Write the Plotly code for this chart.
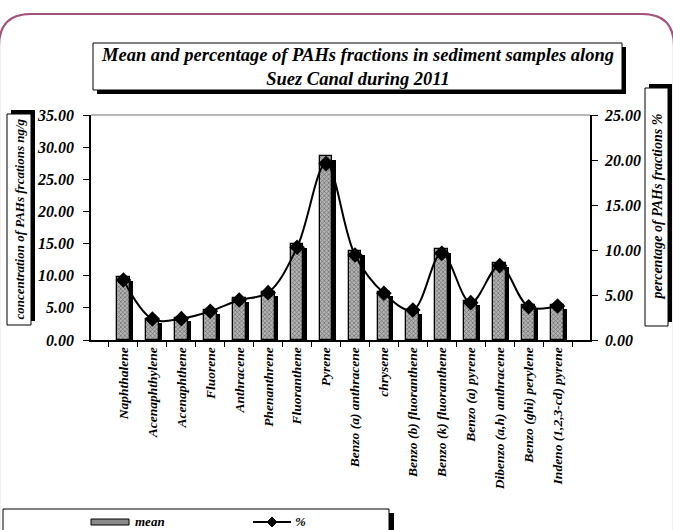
import plotly.graph_objects as go

categories = ["Naphthalene", "Acenaphthylene", "Acenaphthene", "Fluorene", "Anthracene",
              "Phenanthrene", "Fluoranthene", "Pyrene", "Benzo (a) anthracene", "chrysene",
              "Benzo (b) fluoranthene", "Benzo (k) fluoranthene", "Benzo (a) pyrene",
              "Dibenzo (a,h) anthracene", "Benzo (ghi) perylene", "Indeno (1,2,3-cd) pyrene"]
mean_vals = [9.8, 3.3, 3.5, 4.7, 6.5, 7.5, 14.9, 28.6, 13.8, 7.5, 4.7, 14.1, 6.0, 12.0, 5.4, 5.5]
pct_vals = [6.67, 2.33, 2.37, 3.2, 4.44, 5.26, 10.3, 19.6, 9.44, 5.19, 3.33, 9.63, 4.15, 8.26, 3.7, 3.78]
left_ticks = [0, 5, 10, 15, 20, 25, 30, 35]
right_ticks = [0, 5, 10, 15, 20, 25]

W, H = 673, 530
L, R, T, B = 91, 590, 115, 340
FONT = "Liberation Serif, Times New Roman, serif"

def px(x):
    return (x - L) / (R - L)

def py(y):
    return (B - y) / (B - T)

shadow_drop = 0.6
shadow_vals = [max(v - shadow_drop, 0) for v in mean_vals]

fig = go.Figure()
fig.add_trace(go.Bar(x=categories, y=shadow_vals, width=0.44, offset=-0.11,
                     marker=dict(color="black", line=dict(width=0)),
                     showlegend=False, hoverinfo="skip"))
fig.add_trace(go.Bar(x=categories, y=mean_vals, width=0.44, offset=-0.22, name="mean",
                     marker=dict(color="#999999", line=dict(color="black", width=1.3),
                                 pattern=dict(shape="x", size=3, fgcolor="#1e1e1e",
                                              bgcolor="#b4b4b4", solidity=0.4)),
                     showlegend=False))
fig.add_trace(go.Scatter(x=categories, y=pct_vals, yaxis="y2", name="%", mode="lines+markers",
                         line=dict(color="black", width=2, shape="spline", smoothing=1),
                         marker=dict(symbol="diamond", size=12, color="black"),
                         showlegend=False))

tickfont = dict(family=FONT, size=16, color="black", weight="bold", style="italic")

fig.update_layout(
    width=W, height=H, autosize=False,
    margin=dict(l=L, r=W - R, t=T, b=H - B, pad=0),
    paper_bgcolor="white", plot_bgcolor="white",
    barmode="overlay", bargap=0,
    xaxis=dict(type="category", showline=True, linecolor="black", linewidth=1.5,
               ticks="outside", ticklen=5, tickcolor="black", tickson="boundaries",
               tickangle=-90, showgrid=False, zeroline=False,
               tickfont=dict(family=FONT, size=13.5, color="black", weight="bold", style="italic")),
    yaxis=dict(range=[0, 35], tickvals=left_ticks, tickformat=".2f", showline=True,
               linecolor="black", linewidth=1.5, ticks="outside", ticklen=6, tickcolor="black",
               showgrid=False, zeroline=False, tickfont=tickfont, ticklabelstandoff=6),
    yaxis2=dict(range=[0, 25], tickvals=right_ticks, tickformat=".2f", overlaying="y",
                side="right", showline=True, linecolor="black", linewidth=1.5, ticks="outside",
                ticklen=6, tickcolor="black", showgrid=False, zeroline=False, tickfont=tickfont,
                ticklabelstandoff=4),
)

shapes = []
shapes.append(dict(type="line", xref="paper", yref="paper", x0=0, x1=1, y0=1, y1=1,
                   line=dict(color="#a0a0a0", width=1.5)))
fx0, fx1, ftop, r, fbot = -1, 674, 14, 32, 600
path = (f"M {px(fx0)},{py(fbot)} L {px(fx0)},{py(ftop + r)} "
        f"Q {px(fx0)},{py(ftop)} {px(fx0 + r)},{py(ftop)} "
        f"L {px(fx1 - r)},{py(ftop)} Q {px(fx1)},{py(ftop)} {px(fx1)},{py(ftop + r)} "
        f"L {px(fx1)},{py(fbot)}")
shapes.append(dict(type="path", xref="paper", yref="paper", path=path,
                   line=dict(color="#a3527e", width=2.2), layer="below"))

def box_with_shadow(x0, y0, x1, y1, dx, dy):
    shapes.append(dict(type="rect", xref="paper", yref="paper",
                       x0=px(x0 + dx), x1=px(x1 + dx), y0=py(y0 + dy), y1=py(y1 + dy),
                       fillcolor="black", line=dict(width=0)))
    shapes.append(dict(type="rect", xref="paper", yref="paper",
                       x0=px(x0), x1=px(x1), y0=py(y0), y1=py(y1),
                       fillcolor="white", line=dict(color="black", width=1)))

box_with_shadow(93, 43, 622, 90, 4, 4)
box_with_shadow(7, 114, 31, 325, 4, -4)
box_with_shadow(645, 88, 668, 326, 4, -4)
box_with_shadow(3, 509, 389, 560, 5, 4)
shapes.append(dict(type="rect", xref="paper", yref="paper", x0=px(91), x1=px(129),
                   y0=py(519), y1=py(525), fillcolor="#8a8a8a", line=dict(color="black", width=1)))
shapes.append(dict(type="line", xref="paper", yref="paper", x0=px(253), x1=px(291),
                   y0=py(522), y1=py(522), line=dict(color="black", width=2)))
shapes.append(dict(type="path", xref="paper", yref="paper",
                   path=f"M {px(272)},{py(517)} L {px(277)},{py(522)} L {px(272)},{py(527)} L {px(267)},{py(522)} Z",
                   fillcolor="black", line=dict(color="black", width=1)))
fig.update_layout(shapes=shapes)

annot_font = dict(family=FONT, color="black", weight="bold", style="italic")
annotations = [
    dict(text="Mean and percentage of PAHs fractions in sediment samples along<br>Suez Canal during 2011",
         xref="paper", yref="paper", x=px(357.5), y=py(66.5), xanchor="center", yanchor="middle",
         showarrow=False, font=dict(size=18.5, **annot_font)),
    dict(text="concentration of PAHs frcations ng/g", xref="paper", yref="paper",
         x=px(19), y=py(219.5), xanchor="center", yanchor="middle", textangle=-90,
         showarrow=False, font=dict(size=13, **annot_font)),
    dict(text="percentage of PAHs fractions %", xref="paper", yref="paper",
         x=px(656.5), y=py(207), xanchor="center", yanchor="middle", textangle=-90,
         showarrow=False, font=dict(size=14, **annot_font)),
    dict(text="mean", xref="paper", yref="paper", x=px(133), y=py(521.5), xanchor="left",
         yanchor="middle", showarrow=False, font=dict(size=13, **annot_font)),
    dict(text="%", xref="paper", yref="paper", x=px(293), y=py(521.5), xanchor="left",
         yanchor="middle", showarrow=False, font=dict(size=13, **annot_font)),
]
fig.update_layout(annotations=annotations)

fig.write_html("out.html", config={"displayModeBar": False},
               post_script="document.body.style.margin='0';document.body.style.overflow='hidden';")
